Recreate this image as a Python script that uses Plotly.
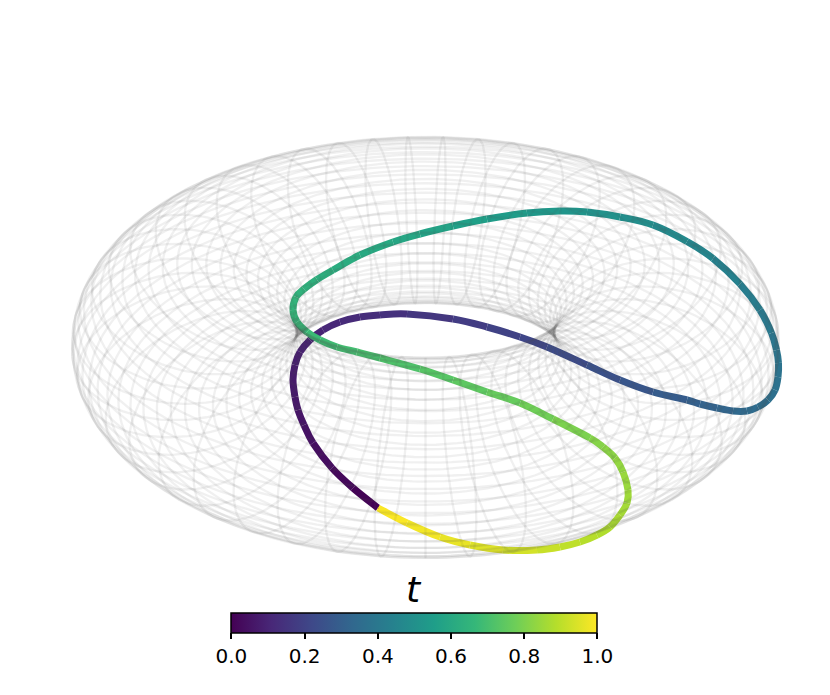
import numpy as np
import plotly.graph_objects as go
from plotly.colors import sample_colorscale

# curve, in projected plane units
curve_t = [0.0, .015, .03, .045, .052, .058, .065, .073, .08, .087, .095, .105, .115, .125, .135, .15, .17, .19,
           .205, .22, .24, .26, .28, .30, .31, .32, .335, .345, .355, .362, .37, .378, .385, .39, .40, .415, .43,
           .45, .465, .485, .50, .515, .525, .54, .555, .57, .585, .595, .61, .625, .632, .642, .65, .66, .668,
           .675, .683, .69, .70, .71, .725, .74, .755, .77, .79, .81, .82, .83, .84, .85, .858, .867, .876, .885,
           .895, .91, .925, .945, .96, .975, .99, 1.0]
curve_x = [-0.47, -0.72, -0.93, -1.12, -1.21, -1.27, -1.30, -1.32, -1.30, -1.25, -1.15, -1.02, -0.85, -0.65, -0.45,
           -0.18, 0.28, 0.62, 0.95, 1.22, 1.62, 1.95, 2.28, 2.62, 2.75, 2.92, 3.08, 3.22, 3.33, 3.43, 3.50, 3.53,
           3.535, 3.515, 3.465, 3.35, 3.15, 2.88, 2.62, 2.28, 1.95, 1.62, 1.35, 1.02, 0.62, 0.28, -0.05, -0.32, -0.65,
           -0.92, -1.08, -1.21, -1.29, -1.32, -1.28, -1.18, -1.05, -0.88, -0.68, -0.45, -0.05, 0.28, 0.62, 0.95,
           1.28, 1.65, 1.78, 1.90, 1.98, 2.03, 2.02, 1.95, 1.85, 1.72, 1.55, 1.35, 1.12, 0.78, 0.45, 0.15, -0.18,
           -0.47]
curve_y = [-1.61, -1.41, -1.21, -0.96, -0.78, -0.63, -0.50, -0.33, -0.18, -0.05, 0.07, 0.17, 0.25, 0.30, 0.32,
           0.33, 0.28, 0.20, 0.10, 0.00, -0.18, -0.33, -0.45, -0.53, -0.57, -0.61, -0.64, -0.64, -0.60, -0.53,
           -0.43, -0.30, -0.16, -0.03, 0.14, 0.37, 0.63, 0.885, 1.055, 1.22, 1.30, 1.35, 1.36, 1.34, 1.28, 1.21,
           1.13, 1.05, 0.92, 0.77, 0.675, 0.58, 0.50, 0.37, 0.25, 0.15, 0.07, 0.00, -0.05, -0.11, -0.22, -0.33,
           -0.45, -0.56, -0.72, -0.91, -1.00, -1.11, -1.25, -1.43, -1.56, -1.68, -1.80, -1.88, -1.95, -2.00, -2.03,
           -2.03, -1.98, -1.90, -1.76, -1.61]
cbar_ticks = [0.0, 0.2, 0.4, 0.6, 0.8, 1.0]

# torus and view
R, r = 2.40, 1.11
elev = np.radians(29.4)
z_squash = 0.75
dist = 26.0
x0, y0 = 0.005, 0.185
n_grid = 49


def project(phi, theta):
    X = (R + r * np.cos(theta)) * np.cos(phi)
    Y = (R + r * np.cos(theta)) * np.sin(phi)
    Z = z_squash * r * np.sin(theta)
    depth = Y * np.cos(elev) - Z * np.sin(elev)
    f = dist / (dist + depth)
    return x0 + X * f, y0 + (Y * np.sin(elev) + Z * np.cos(elev)) * f


fig = go.Figure()

# coloured curve: one smooth piece per pair of read points, under the wireframe
n = len(curve_t)
shapes = []
for i in range(n - 1):
    a, b = max(i - 1, 0), min(i + 2, n - 1)
    c1x = curve_x[i] + (curve_x[i + 1] - curve_x[a]) / 6
    c1y = curve_y[i] + (curve_y[i + 1] - curve_y[a]) / 6
    c2x = curve_x[i + 1] - (curve_x[b] - curve_x[i]) / 6
    c2y = curve_y[i + 1] - (curve_y[b] - curve_y[i]) / 6
    c = sample_colorscale("Viridis", (curve_t[i] + curve_t[i + 1]) / 2)[0]
    path = f"M {curve_x[i]},{curve_y[i]} C {c1x},{c1y} {c2x},{c2y} {curve_x[i + 1]},{curve_y[i + 1]}"
    shapes.append(dict(type="path", path=path, xref="x", yref="y", layer="below",
                       line=dict(color=c, width=7)))

fig.add_trace(go.Scatter(
    x=curve_x, y=curve_y, mode="markers",
    marker=dict(size=1, color=curve_t, colorscale="Viridis", cmin=0, cmax=1, line=dict(width=0),
                colorbar=dict(orientation="h", x=0.4993, xanchor="center", y=0.118, yanchor="top",
                              xpad=0, ypad=0,
                              lenmode="pixels", len=366, thicknessmode="pixels", thickness=20,
                              outlinecolor="black", outlinewidth=1.5, tickvals=cbar_ticks,
                              ticktext=["%.1f" % v for v in cbar_ticks],
                              ticks="outside", ticklen=6, tickwidth=1.5, tickcolor="black",
                              tickfont=dict(family="DejaVu Sans", size=20, color="black"))),
))

# wireframe sits on top of the curve, with one meridian straight at the front
line = dict(color="rgba(80,80,80,0.085)", width=2.3)
for a in np.linspace(-np.pi / 2, 3 * np.pi / 2, n_grid, endpoint=False):
    xs, ys = project(np.full(121, a), np.linspace(0, 2 * np.pi, 121))
    fig.add_trace(go.Scatter(x=xs, y=ys, mode="lines", line=line))
for b in np.linspace(0, 2 * np.pi, n_grid, endpoint=False):
    xs, ys = project(np.linspace(0, 2 * np.pi, 181), np.full(181, b))
    fig.add_trace(go.Scatter(x=xs, y=ys, mode="lines", line=line))

fig.update_layout(
    width=830, height=695, margin=dict(l=0, r=0, t=0, b=0),
    paper_bgcolor="white", plot_bgcolor="white", showlegend=False, hovermode=False,
    xaxis=dict(range=[-4.25, 4.05], visible=False),
    yaxis=dict(range=[-3.48, 3.47], visible=False),
    shapes=shapes,
    annotations=[dict(text="<i>t</i>", x=0.4993, y=0.119, xref="paper", yref="paper",
                      showarrow=False, font=dict(family="DejaVu Sans", size=36, color="black"))],
)

fig.write_html("out.html", config={"displayModeBar": False}, post_script="document.body.style.margin='0';")
